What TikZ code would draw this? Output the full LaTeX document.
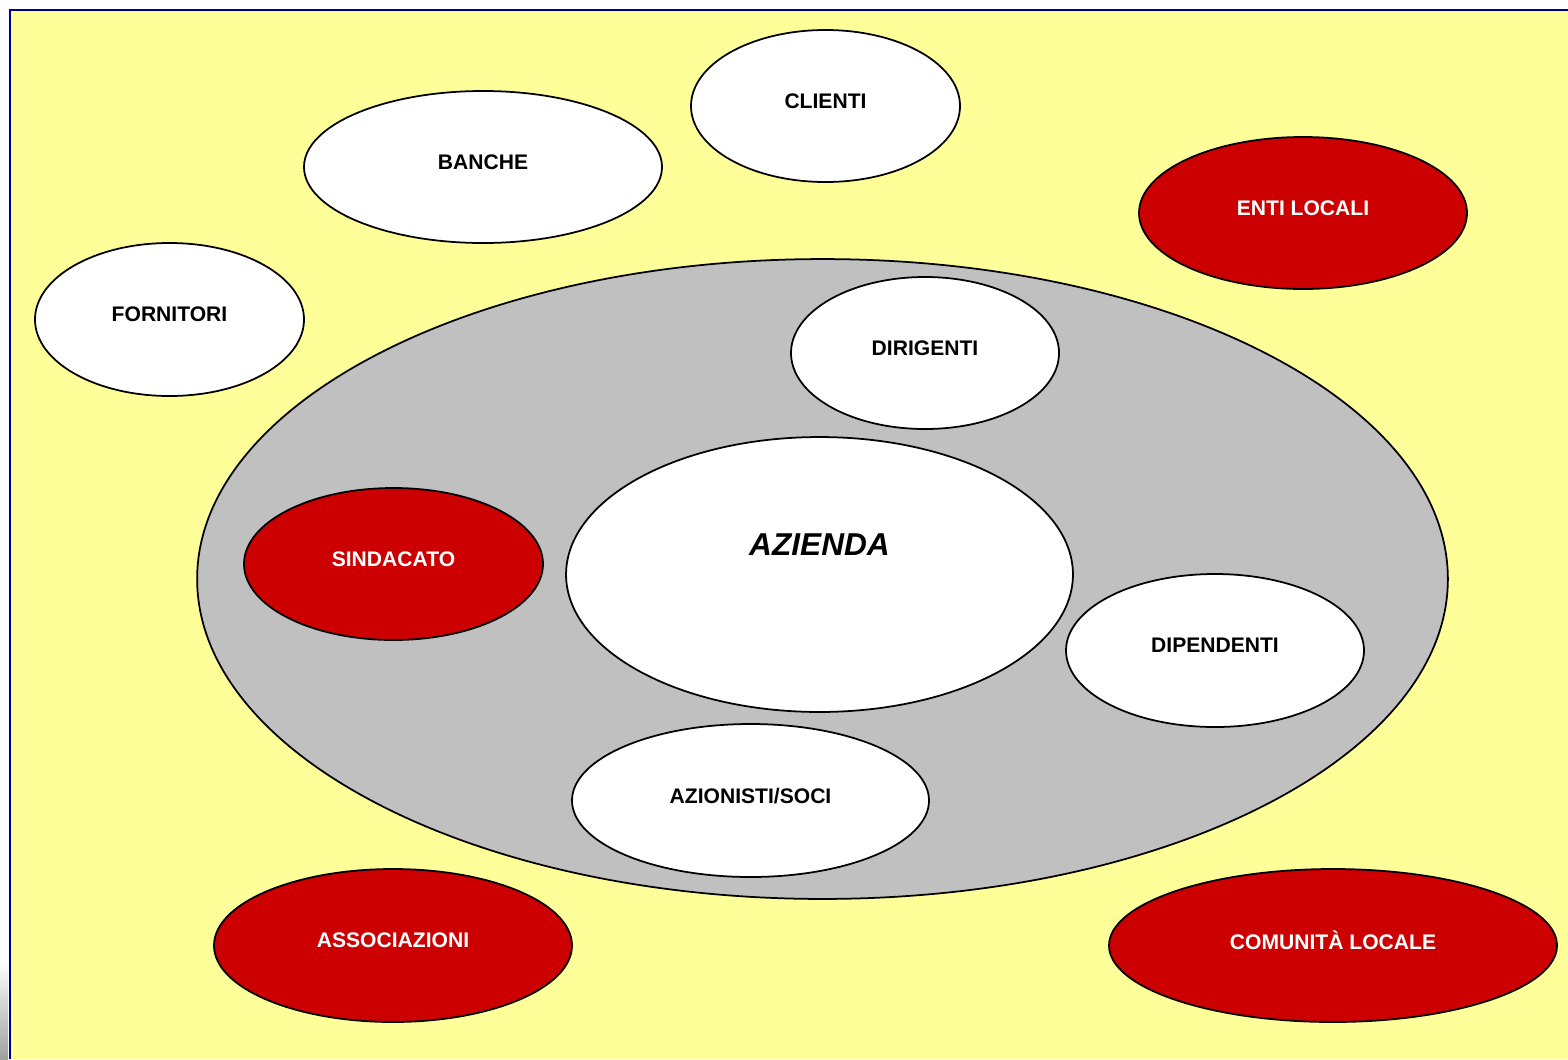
\documentclass[tikz,border=0pt]{standalone}
\usepackage{fontspec}
\setmainfont{Liberation Sans}
\usepackage{tikz}
\usetikzlibrary{shapes.geometric}
\definecolor{fondo_giallo}{RGB}{255,255,153}
\definecolor{bordo_blu}{RGB}{0,0,140}
\definecolor{grigio_az}{RGB}{192,192,192}
\definecolor{rosso_st}{RGB}{204,0,0}
\tikzset{
  stakebase/.style={ellipse, draw=black, line width=1pt, inner sep=0pt,
    font=\fontsize{12}{14}\selectfont\bfseries, text depth=0.2cm},
  stakebianco/.style={stakebase, fill=white, text=black},
  stakerosso/.style={stakebase, fill=rosso_st, text=white},
}
\newcommand{\stake}[7]{% #1 = nome, #2,#3 = centro (px), #4,#5 = semiassi (px), #6 = stile, #7 = testo
  \pgfmathsetmacro{\stakew}{2*#4*0.02}
  \pgfmathsetmacro{\stakeh}{2*#5*0.02}
  \node[#6, minimum width=\stakew cm, minimum height=\stakeh cm] (#1) at (#2,#3) {#7};
}

\begin{document}
\begin{tikzpicture}[x=0.02cm, y=-0.02cm]
  \useasboundingbox (0,0) rectangle (1568,1059);
  % sfondo
  \fill[fondo_giallo] (10,10) rectangle (1568,1059);
  \shade[top color=white, bottom color=gray!75] (0,960) rectangle (8,1059);
  \draw[bordo_blu, line width=1.5pt] (10,1059) -- (10,10) -- (1568,10);
  % azienda e stakeholder interni
  \node[ellipse, draw=black, line width=1pt, fill=grigio_az,
        minimum width=25.02cm, minimum height=12.8cm] (interni) at (822.5,579) {};
  \node[ellipse, draw=black, line width=1pt, fill=white, inner sep=0pt,
        minimum width=10.14cm, minimum height=5.5cm, text depth=1.2cm,
        font=\fontsize{18}{21}\selectfont\bfseries\itshape] (azienda) at (819.5,574.5) {AZIENDA};
  \stake{dirigenti}{925}{353}{134}{76}{stakebianco}{DIRIGENTI}
  \stake{sindacato}{393.5}{564}{149.5}{76}{stakerosso}{SINDACATO}
  \stake{dipendenti}{1215}{650.5}{149}{76.5}{stakebianco}{DIPENDENTI}
  \stake{azionisti}{750.5}{800.5}{178.5}{76.5}{stakebianco}{AZIONISTI/SOCI}
  % stakeholder esterni
  \stake{clienti}{825.5}{106}{134.5}{76}{stakebianco}{CLIENTI}
  \stake{banche}{483}{167}{179}{76}{stakebianco}{BANCHE}
  \stake{enti}{1303}{213}{164}{76}{stakerosso}{ENTI LOCALI}
  \stake{fornitori}{169.5}{319.5}{134.5}{76.5}{stakebianco}{FORNITORI}
  \stake{associazioni}{393}{945.5}{179}{76.5}{stakerosso}{ASSOCIAZIONI}
  \stake{comunita}{1333}{945.5}{224}{76.5}{stakerosso}{COMUNITÀ LOCALE}
\end{tikzpicture}
\end{document}
